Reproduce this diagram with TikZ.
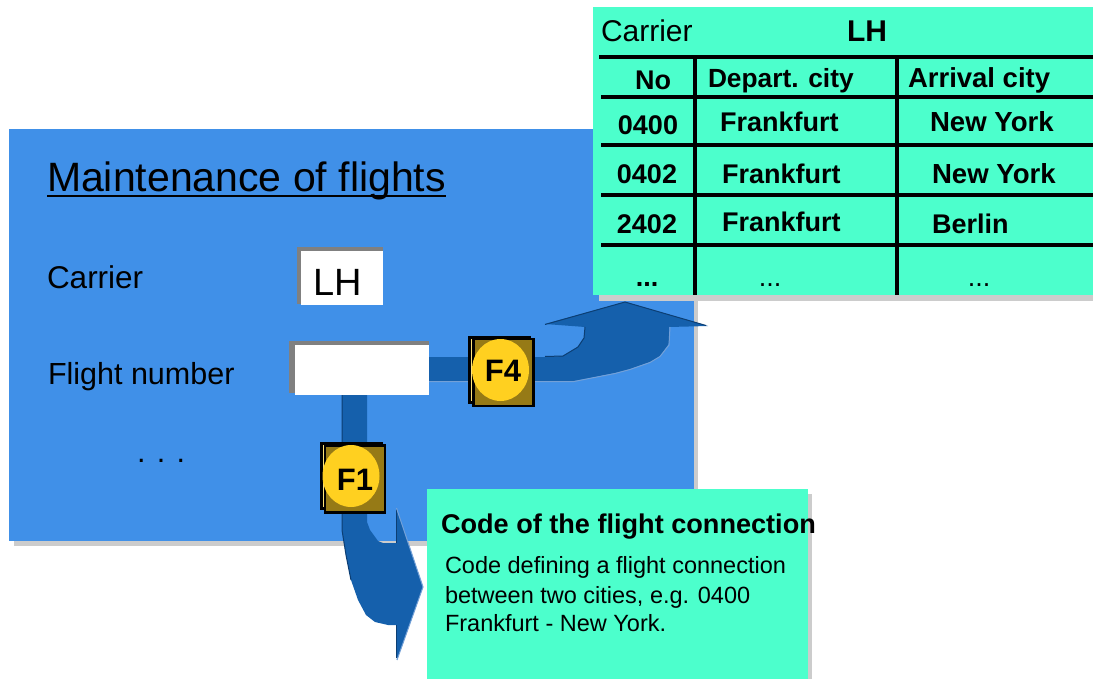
\documentclass[tikz,border=0pt]{standalone}
\usepackage{fontspec}
\setmainfont{Liberation Sans}
\usetikzlibrary{shapes.geometric}
\definecolor{panelblue}{RGB}{64,144,232}
\definecolor{mint}{RGB}{76,255,204}
\definecolor{arrowblue}{RGB}{21,96,172}
\definecolor{arrowdark}{RGB}{12,62,115}
\definecolor{arrowlight}{RGB}{115,160,215}
\definecolor{shadegrey}{RGB}{204,204,204}
\definecolor{keyolive}{RGB}{150,122,22}
\definecolor{keygold}{RGB}{255,208,32}
\definecolor{insetgrey}{RGB}{128,128,128}
\newcommand{\fs}[1]{\fontsize{#1}{#1}\selectfont}
\tikzset{
  txt/.style={inner sep=0pt,outer sep=0pt,text=black},
  labelt/.style={txt,font=\fs{30.5},anchor=base west},
  cellt/.style={txt,font=\fs{27}\bfseries,anchor=base},
  celll/.style={txt,font=\fs{27}\bfseries,anchor=base west},
  cityr/.style={txt,font=\fs{27.6}\bfseries,anchor=base west},
  bodyt/.style={txt,font=\fs{23.5},anchor=base west},
  gridline/.style={draw=black,line width=3.4pt},
  keyfront/.style={draw=black,line width=2.6pt,fill=keyolive,minimum width=60pt,minimum height=67pt,inner sep=0pt},
  keyback/.style={draw=black,line width=2.6pt,fill=keygold!60!white,minimum width=60pt,minimum height=65pt,inner sep=0pt},
  keydisc/.style={ellipse,fill=keygold,inner sep=0pt,minimum width=57pt,minimum height=62pt},
  keytext/.style={txt,font=\fs{31}\bfseries},
}
\begin{document}
\begin{tikzpicture}[x=1pt,y=-1pt]
\useasboundingbox (0,0) rectangle (1093,679);
% main panel
\fill[shadegrey] (14,134) rectangle (698,546);
\fill[panelblue] (9,129) rectangle (694,541);
\node[txt,font=\fs{41},anchor=base west] (title) at (47,192) {Maintenance of flights};
\draw[black,line width=1.6pt] (title.base west) ++(0,4) -- ++(399,0);
\node[labelt,font=\fs{31.5}] (carrier) at (47,289) {Carrier};
\node[labelt] (flightno) at (48,384) {Flight number};
\node[labelt] (dots) at (137,462) {. . .};
% inputs
\fill[insetgrey] (297,247) rectangle (383,304);
\fill[white] (301,251) rectangle (383,305);
\node[txt,font=\fs{38},anchor=base] (lh) at (338,295) {LH};
% F4 arrow
\fill[arrowblue] (429,357) -- (545,357) -- (563,356) -- (578,347) -- (584,338) -- (585,327) -- (545,324) -- (625,302) -- (708,326) -- (669,327) -- (669,342) -- (668,345) -- (660,356) -- (650,362) -- (630,369) -- (615,373) -- (574,381) -- (429,381) -- cycle;
\draw[arrowlight,line width=1pt] (429,381.5) -- (574,381.5) -- (615,373.5) -- (630,369.5) -- (650,362.5) -- (660,356.5) -- (669,345) -- (670,327);
\draw[arrowdark,line width=1pt] (545,324.5) -- (625,302) -- (706,325.5);
\draw[arrowdark,line width=1pt] (545,356.5) -- (563,356) -- (578,347) -- (584,338) -- (585,327);
% F1 arrow
\fill[arrowblue] (342,395) -- (367,395) -- (367,522) -- (370,530) -- (378,541) -- (383,543) -- (396,543) -- (396,508) -- (423,587) -- (397,660) -- (396,625) -- (388,625) -- (375,622) -- (366,615) -- (358,600) -- (351,580) -- (346,555) -- (342,530) -- cycle;
\draw[arrowdark,line width=1pt] (342,395) -- (342,530) -- (346,555) -- (351,580);
\draw[arrowdark,line width=1pt] (396,543) -- (396,510);
\draw[arrowdark,line width=1pt] (396,625) -- (396,658);
\draw[arrowlight,line width=1pt] (396.5,508) -- (423,587) -- (397,660);
% flight number input (over the arrows)
\fill[insetgrey] (289,341) rectangle (429,393);
\fill[white] (295,345) rectangle (429,395);
% F4 key
\node[keyback] (f4b) at (499.5,370) {};
\node[keyfront] (f4) at (503.5,372.5) {};
\node[keydisc] (f4d) at (500.5,370) {};
\node[keytext] (f4t) at (503,371) {F4};
% F1 key
\node[keyback] (f1b) at (351.5,476) {};
\node[keyfront] (f1) at (355,479) {};
\node[keydisc] (f1d) at (351,476) {};
\node[keytext] (f1t) at (355,480) {F1};
% help panel
\fill[shadegrey] (432,494) rectangle (812,679);
\fill[mint] (427,489) rectangle (808,679);
\node[txt,font=\fs{27.1}\bfseries,anchor=base west] (codet) at (441,533) {Code of the flight connection};
\node[bodyt] (l1) at (445,573) {Code defining a flight connection};
\node[bodyt] (l2) at (445,603) {between two cities, e.g. 0400};
\node[bodyt] (l3) at (445,631) {Frankfurt - New York.};
% table panel
\fill[shadegrey] (599,13) rectangle (1093,301);
\fill[mint] (593,7) rectangle (1093,295);
\node[txt,font=\fs{30},anchor=base west] (tc) at (601,42) {Carrier};
\node[txt,font=\fs{30}\bfseries,anchor=base] (tlh) at (867,42) {LH};
\foreach \n/\a/\yy in {h1/599/57,h2/601/97,h3/601/145,h4/601/195,h5/601/245}{
  \coordinate (\n a) at (\a,\yy); \coordinate (\n b) at (1093,\yy);
  \draw[gridline] (\n a) -- (\n b);
}
\coordinate (v1a) at (695,57); \coordinate (v1b) at (695,295);
\coordinate (v2a) at (897,57); \coordinate (v2b) at (897,295);
\draw[gridline] (v1a) -- (v1b);
\draw[gridline] (v2a) -- (v2b);
\node[cellt] (hno) at (653,90) {No};
\node[txt,font=\fs{26.3}\bfseries,anchor=base west] (hdep) at (708,88) {Depart. city};
\node[txt,font=\fs{27.5}\bfseries,anchor=base west] (harr) at (908,88) {Arrival city};
\node[cellt] (n1) at (648,135) {0400};
\node[celll] (d1) at (720,132) {Frankfurt};
\node[cityr] (a1) at (930,132) {New York};
\node[cellt] (n2) at (647,184) {0402};
\node[celll] (d2) at (722,184) {Frankfurt};
\node[cityr] (a2) at (932,184) {New York};
\node[cellt] (n3) at (647,234) {2402};
\node[celll] (d3) at (722,232) {Frankfurt};
\node[celll] (a3) at (932,234) {Berlin};
\node[cellt] (n4) at (647,287) {...};
\node[cellt,font=\fs{27}] (d4) at (770,287) {...};
\node[cellt,font=\fs{27}] (a4) at (979,287) {...};
\end{tikzpicture}
\end{document}
